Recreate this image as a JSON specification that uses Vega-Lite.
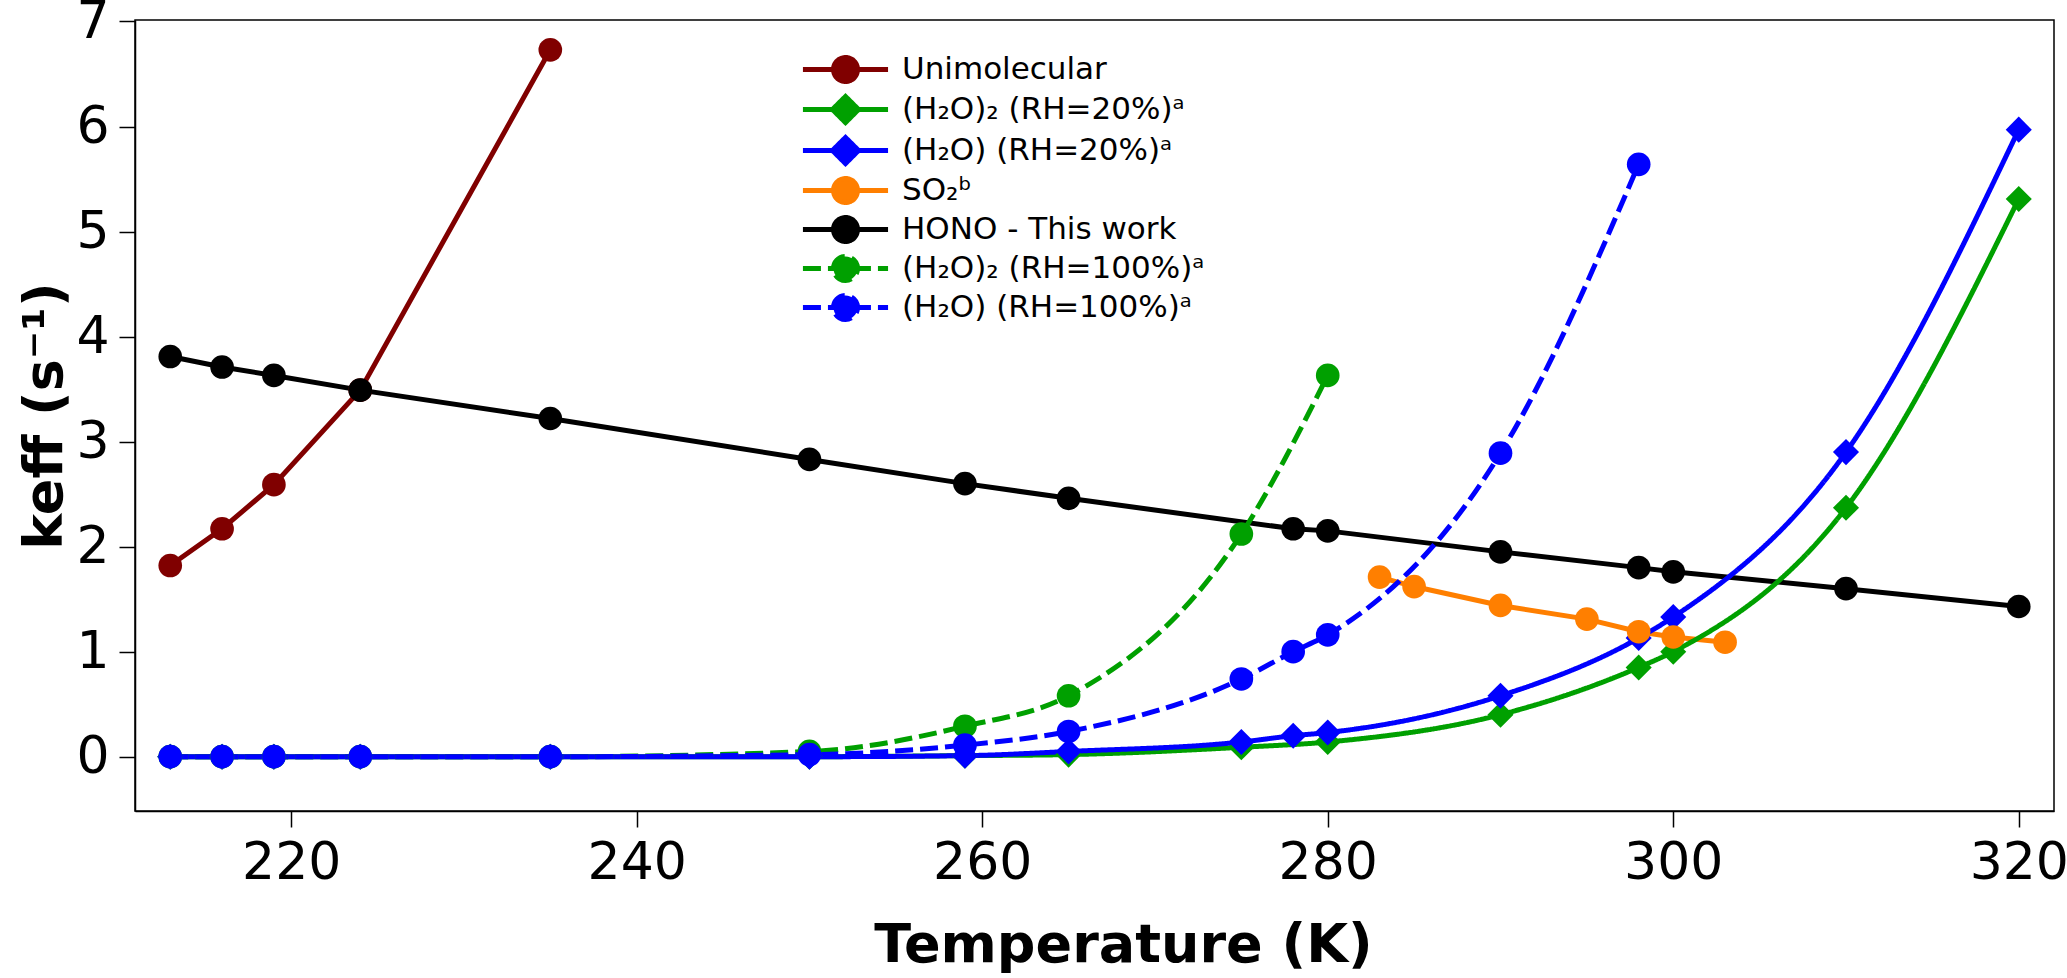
{
  "$schema": "https://vega.github.io/schema/vega-lite/v6.json",
  "width": 1919,
  "height": 791,
  "autosize": {"type": "none"},
  "padding": {"left": 135, "top": 20, "right": 13, "bottom": 167},
  "background": "white",
  "config": {
    "font": "DejaVu Sans",
    "view": {"stroke": "black", "strokeWidth": 1.5},
    "axis": {
      "grid": false,
      "domainColor": "black",
      "domainWidth": 1.5,
      "tickColor": "black",
      "tickWidth": 1.5,
      "tickSize": 16,
      "labelFontSize": 52,
      "labelColor": "black",
      "labelPadding": 10,
      "labelFlush": false,
      "labelOverlap": false,
      "titleFontSize": 54,
      "titleFontWeight": "bold",
      "titleColor": "black"
    }
  },
  "data": {
    "values": [
      {"series": "Unimolecular", "T": 213, "k": 1.82},
      {"series": "Unimolecular", "T": 216, "k": 2.17},
      {"series": "Unimolecular", "T": 219, "k": 2.59},
      {"series": "Unimolecular", "T": 224, "k": 3.49},
      {"series": "Unimolecular", "T": 235, "k": 6.73},

      {"series": "(H₂O)₂ (RH=20%)ᵃ", "T": 213, "k": 0},
      {"series": "(H₂O)₂ (RH=20%)ᵃ", "T": 216, "k": 0},
      {"series": "(H₂O)₂ (RH=20%)ᵃ", "T": 219, "k": 0},
      {"series": "(H₂O)₂ (RH=20%)ᵃ", "T": 224, "k": 0},
      {"series": "(H₂O)₂ (RH=20%)ᵃ", "T": 235, "k": 0},
      {"series": "(H₂O)₂ (RH=20%)ᵃ", "T": 250, "k": 0.0},
      {"series": "(H₂O)₂ (RH=20%)ᵃ", "T": 259, "k": 0.01},
      {"series": "(H₂O)₂ (RH=20%)ᵃ", "T": 265, "k": 0.02},
      {"series": "(H₂O)₂ (RH=20%)ᵃ", "T": 275, "k": 0.09},
      {"series": "(H₂O)₂ (RH=20%)ᵃ", "T": 280, "k": 0.14},
      {"series": "(H₂O)₂ (RH=20%)ᵃ", "T": 290, "k": 0.40},
      {"series": "(H₂O)₂ (RH=20%)ᵃ", "T": 298, "k": 0.85},
      {"series": "(H₂O)₂ (RH=20%)ᵃ", "T": 300, "k": 1.0},
      {"series": "(H₂O)₂ (RH=20%)ᵃ", "T": 310, "k": 2.37},
      {"series": "(H₂O)₂ (RH=20%)ᵃ", "T": 320, "k": 5.31},

      {"series": "(H₂O) (RH=20%)ᵃ", "T": 213, "k": 0},
      {"series": "(H₂O) (RH=20%)ᵃ", "T": 216, "k": 0},
      {"series": "(H₂O) (RH=20%)ᵃ", "T": 219, "k": 0},
      {"series": "(H₂O) (RH=20%)ᵃ", "T": 224, "k": 0},
      {"series": "(H₂O) (RH=20%)ᵃ", "T": 235, "k": 0},
      {"series": "(H₂O) (RH=20%)ᵃ", "T": 250, "k": 0.0},
      {"series": "(H₂O) (RH=20%)ᵃ", "T": 259, "k": 0.01},
      {"series": "(H₂O) (RH=20%)ᵃ", "T": 265, "k": 0.05},
      {"series": "(H₂O) (RH=20%)ᵃ", "T": 275, "k": 0.14},
      {"series": "(H₂O) (RH=20%)ᵃ", "T": 278, "k": 0.20},
      {"series": "(H₂O) (RH=20%)ᵃ", "T": 280, "k": 0.23},
      {"series": "(H₂O) (RH=20%)ᵃ", "T": 290, "k": 0.58},
      {"series": "(H₂O) (RH=20%)ᵃ", "T": 298, "k": 1.13},
      {"series": "(H₂O) (RH=20%)ᵃ", "T": 300, "k": 1.33},
      {"series": "(H₂O) (RH=20%)ᵃ", "T": 310, "k": 2.90},
      {"series": "(H₂O) (RH=20%)ᵃ", "T": 320, "k": 5.97},

      {"series": "SO₂ᵇ", "T": 283, "k": 1.71},
      {"series": "SO₂ᵇ", "T": 285, "k": 1.62},
      {"series": "SO₂ᵇ", "T": 290, "k": 1.44},
      {"series": "SO₂ᵇ", "T": 295, "k": 1.31},
      {"series": "SO₂ᵇ", "T": 298, "k": 1.19},
      {"series": "SO₂ᵇ", "T": 300, "k": 1.14},
      {"series": "SO₂ᵇ", "T": 303, "k": 1.09},

      {"series": "HONO - This work", "T": 213, "k": 3.81},
      {"series": "HONO - This work", "T": 216, "k": 3.71},
      {"series": "HONO - This work", "T": 219, "k": 3.63},
      {"series": "HONO - This work", "T": 224, "k": 3.49},
      {"series": "HONO - This work", "T": 235, "k": 3.22},
      {"series": "HONO - This work", "T": 250, "k": 2.83},
      {"series": "HONO - This work", "T": 259, "k": 2.60},
      {"series": "HONO - This work", "T": 265, "k": 2.46},
      {"series": "HONO - This work", "T": 278, "k": 2.17},
      {"series": "HONO - This work", "T": 280, "k": 2.15},
      {"series": "HONO - This work", "T": 290, "k": 1.95},
      {"series": "HONO - This work", "T": 298, "k": 1.80},
      {"series": "HONO - This work", "T": 300, "k": 1.76},
      {"series": "HONO - This work", "T": 310, "k": 1.60},
      {"series": "HONO - This work", "T": 320, "k": 1.43},

      {"series": "(H₂O)₂ (RH=100%)ᵃ", "T": 213, "k": 0},
      {"series": "(H₂O)₂ (RH=100%)ᵃ", "T": 216, "k": 0},
      {"series": "(H₂O)₂ (RH=100%)ᵃ", "T": 219, "k": 0},
      {"series": "(H₂O)₂ (RH=100%)ᵃ", "T": 224, "k": 0},
      {"series": "(H₂O)₂ (RH=100%)ᵃ", "T": 235, "k": 0},
      {"series": "(H₂O)₂ (RH=100%)ᵃ", "T": 250, "k": 0.05},
      {"series": "(H₂O)₂ (RH=100%)ᵃ", "T": 259, "k": 0.29},
      {"series": "(H₂O)₂ (RH=100%)ᵃ", "T": 265, "k": 0.58},
      {"series": "(H₂O)₂ (RH=100%)ᵃ", "T": 275, "k": 2.12},
      {"series": "(H₂O)₂ (RH=100%)ᵃ", "T": 280, "k": 3.63},

      {"series": "(H₂O) (RH=100%)ᵃ", "T": 213, "k": 0},
      {"series": "(H₂O) (RH=100%)ᵃ", "T": 216, "k": 0},
      {"series": "(H₂O) (RH=100%)ᵃ", "T": 219, "k": 0},
      {"series": "(H₂O) (RH=100%)ᵃ", "T": 224, "k": 0},
      {"series": "(H₂O) (RH=100%)ᵃ", "T": 235, "k": 0},
      {"series": "(H₂O) (RH=100%)ᵃ", "T": 250, "k": 0.02},
      {"series": "(H₂O) (RH=100%)ᵃ", "T": 259, "k": 0.11},
      {"series": "(H₂O) (RH=100%)ᵃ", "T": 265, "k": 0.24},
      {"series": "(H₂O) (RH=100%)ᵃ", "T": 275, "k": 0.74},
      {"series": "(H₂O) (RH=100%)ᵃ", "T": 278, "k": 1.00},
      {"series": "(H₂O) (RH=100%)ᵃ", "T": 280, "k": 1.16},
      {"series": "(H₂O) (RH=100%)ᵃ", "T": 290, "k": 2.89},
      {"series": "(H₂O) (RH=100%)ᵃ", "T": 298, "k": 5.64}
    ]
  },
  "encoding": {
    "x": {
      "field": "T", "type": "quantitative",
      "scale": {"domain": [210.96, 322.04], "nice": false, "zero": false},
      "axis": {"title": "Temperature (K)", "values": [220, 240, 260, 280, 300, 320], "titlePadding": 30, "titleX": 988}
    },
    "y": {
      "field": "k", "type": "quantitative",
      "scale": {"domain": [-0.517, 7.014], "nice": false, "zero": false},
      "axis": {"title": "keff (s⁻¹)", "values": [0, 1, 2, 3, 4, 5, 6, 7], "titlePadding": 3}
    }
  },
  "layer": [
    {
      "transform": [{"filter": {"field": "series", "oneOf": ["Unimolecular", "SO₂ᵇ", "HONO - This work"]}}],
      "mark": {"type": "line", "strokeWidth": 5},
      "encoding": {
        "color": {
          "field": "series", "type": "nominal",
          "scale": {
            "domain": ["Unimolecular", "(H₂O)₂ (RH=20%)ᵃ", "(H₂O) (RH=20%)ᵃ", "SO₂ᵇ", "HONO - This work", "(H₂O)₂ (RH=100%)ᵃ", "(H₂O) (RH=100%)ᵃ"],
            "range": ["#800000", "#00A000", "#0000FF", "#FF7F00", "#000000", "#00A000", "#0000FF"]
          },
          "legend": {
            "title": null,
            "orient": "none",
            "legendX": 694,
            "legendY": 33,
            "padding": 0,
            "symbolSize": 784,
            "symbolStrokeWidth": 5,
            "symbolType": "circle",
            "labelFontSize": 31,
            "labelColor": "black",
            "labelOffset": 40,
            "labelLimit": 700,
            "rowPadding": -6,
            "encode": {
              "symbols": {
                "update": {
                  "shape": {"signal": "indexof(datum.value, 'RH=20%') >= 0 ? 'M-3.04,0H3.04M0,-0.93L0.93,0L0,0.93L-0.93,0Z' : 'M-3.04,0H3.04M-0.857,0A0.857,0.857,0,1,1,0.857,0A0.857,0.857,0,1,1,-0.857,0Z'"},
                  "fill": {"scale": "color", "field": "value"},
                  "stroke": {"scale": "color", "field": "value"},
                  "strokeDash": {"signal": "indexof(datum.value, '100%') >= 0 ? [18, 7] : [1, 0]"},
                  "opacity": {"value": 1}
                }
              }
            }
          }
        }
      }
    },
    {
      "transform": [{"filter": {"field": "series", "oneOf": ["(H₂O)₂ (RH=20%)ᵃ", "(H₂O) (RH=20%)ᵃ", "(H₂O)₂ (RH=100%)ᵃ", "(H₂O) (RH=100%)ᵃ"]}}],
      "mark": {"type": "line", "strokeWidth": 5, "interpolate": "monotone"},
      "encoding": {
        "color": {"field": "series", "type": "nominal", "legend": null},
        "strokeDash": {
          "field": "series", "type": "nominal",
          "scale": {
            "domain": ["(H₂O)₂ (RH=20%)ᵃ", "(H₂O) (RH=20%)ᵃ", "(H₂O)₂ (RH=100%)ᵃ", "(H₂O) (RH=100%)ᵃ"],
            "range": [[1, 0], [1, 0], [18, 7], [18, 7]]
          },
          "legend": null
        }
      }
    },
    {
      "transform": [{"filter": {"field": "series", "oneOf": ["(H₂O)₂ (RH=20%)ᵃ", "(H₂O) (RH=20%)ᵃ"]}}],
      "mark": {"type": "point", "shape": "diamond", "filled": true, "opacity": 1, "size": 680},
      "encoding": {"color": {"field": "series", "type": "nominal", "legend": null}}
    },
    {
      "transform": [{"filter": {"field": "series", "oneOf": ["Unimolecular", "SO₂ᵇ", "HONO - This work", "(H₂O)₂ (RH=100%)ᵃ", "(H₂O) (RH=100%)ᵃ"]}}],
      "mark": {"type": "point", "shape": "circle", "filled": true, "opacity": 1, "size": 560},
      "encoding": {"color": {"field": "series", "type": "nominal", "legend": null}}
    }
  ]
}
